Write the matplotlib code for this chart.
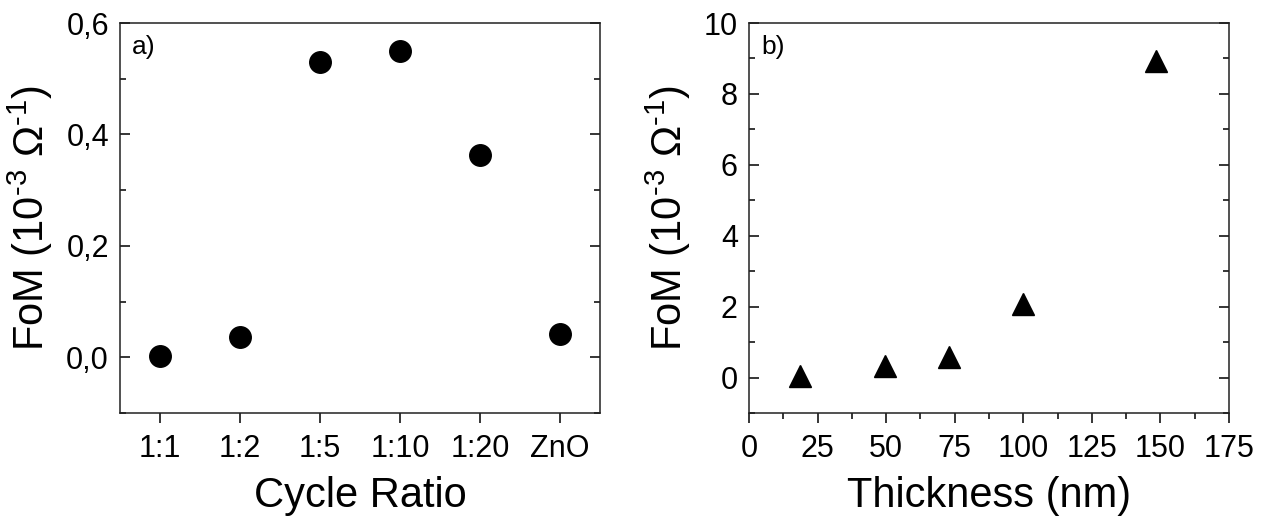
import numpy as np
import matplotlib.pyplot as plt
from matplotlib.ticker import MultipleLocator, FuncFormatter

plt.rcParams["font.family"] = ["Liberation Sans", "DejaVu Sans"]
plt.rcParams["mathtext.fontset"] = "custom"
plt.rcParams["mathtext.rm"] = "Liberation Sans"
plt.rcParams["mathtext.it"] = "Liberation Sans"

# panel a) data
ratio_labels = ["1:1", "1:2", "1:5", "1:10", "1:20", "ZnO"]
fom_ratio = [0.002, 0.036, 0.530, 0.550, 0.364, 0.041]

# panel b) data
thickness = [18.5, 49.5, 73, 100, 148.5]
fom_thick = [0.05, 0.33, 0.58, 2.08, 8.92]

ylab = r"FoM (10$^{\mathrm{‐3}}$ $\Omega^{\mathrm{‐1}}$)"

fig = plt.figure(figsize=(12.69, 5.27), dpi=100)
ax1 = fig.add_axes([0.0946, 0.2163, 0.3783, 0.740])
ax2 = fig.add_axes([0.5902, 0.2163, 0.3783, 0.740])


def style(ax):
    for s in ax.spines.values():
        s.set_linewidth(1.1)
        s.set_color("#222222")
    ax.tick_params(axis="y", which="both", direction="in", left=True, right=True,
                   labelsize=22, width=1.1, pad=8)
    ax.tick_params(axis="y", which="major", length=7)
    ax.tick_params(axis="y", which="minor", length=4)
    ax.tick_params(axis="x", which="both", direction="out", top=False,
                   labelsize=22, width=1.1, pad=8)
    ax.tick_params(axis="x", which="major", length=7)
    ax.tick_params(axis="x", which="minor", length=4)


# a) cycle ratio
xpos = np.arange(1, len(ratio_labels) + 1)
ax1.plot(xpos, fom_ratio, "o", color="black", markersize=15.5, linestyle="none")
ax1.set_xlim(0.5, 6.5)
ax1.set_ylim(-0.1, 0.6)
ax1.set_xticks(xpos)
ax1.set_xticklabels(ratio_labels)
ax1.yaxis.set_major_locator(MultipleLocator(0.2))
ax1.yaxis.set_minor_locator(MultipleLocator(0.1))
ax1.yaxis.set_major_formatter(FuncFormatter(lambda v, p: f"{v:.1f}".replace(".", ",")))
style(ax1)
ax1.set_xlabel("Cycle Ratio", fontsize=30, labelpad=9)
ax1.set_ylabel(ylab, fontsize=30, labelpad=8)
ax1.text(0.025, 0.97, "a)", transform=ax1.transAxes, fontsize=19, va="top", ha="left")

# b) thickness
ax2.plot(thickness, fom_thick, "^", color="black", markersize=16.5, linestyle="none")
ax2.set_xlim(0, 175)
ax2.set_ylim(-1, 10)
ax2.xaxis.set_major_locator(MultipleLocator(25))
ax2.xaxis.set_minor_locator(MultipleLocator(12.5))
ax2.yaxis.set_major_locator(MultipleLocator(2))
ax2.yaxis.set_minor_locator(MultipleLocator(1))
style(ax2)
ax2.set_xlabel("Thickness (nm)", fontsize=30, labelpad=9)
ax2.set_ylabel(ylab, fontsize=30, labelpad=8)
ax2.text(0.025, 0.97, "b)", transform=ax2.transAxes, fontsize=19, va="top", ha="left")

fig.savefig("out.png", dpi=100)
